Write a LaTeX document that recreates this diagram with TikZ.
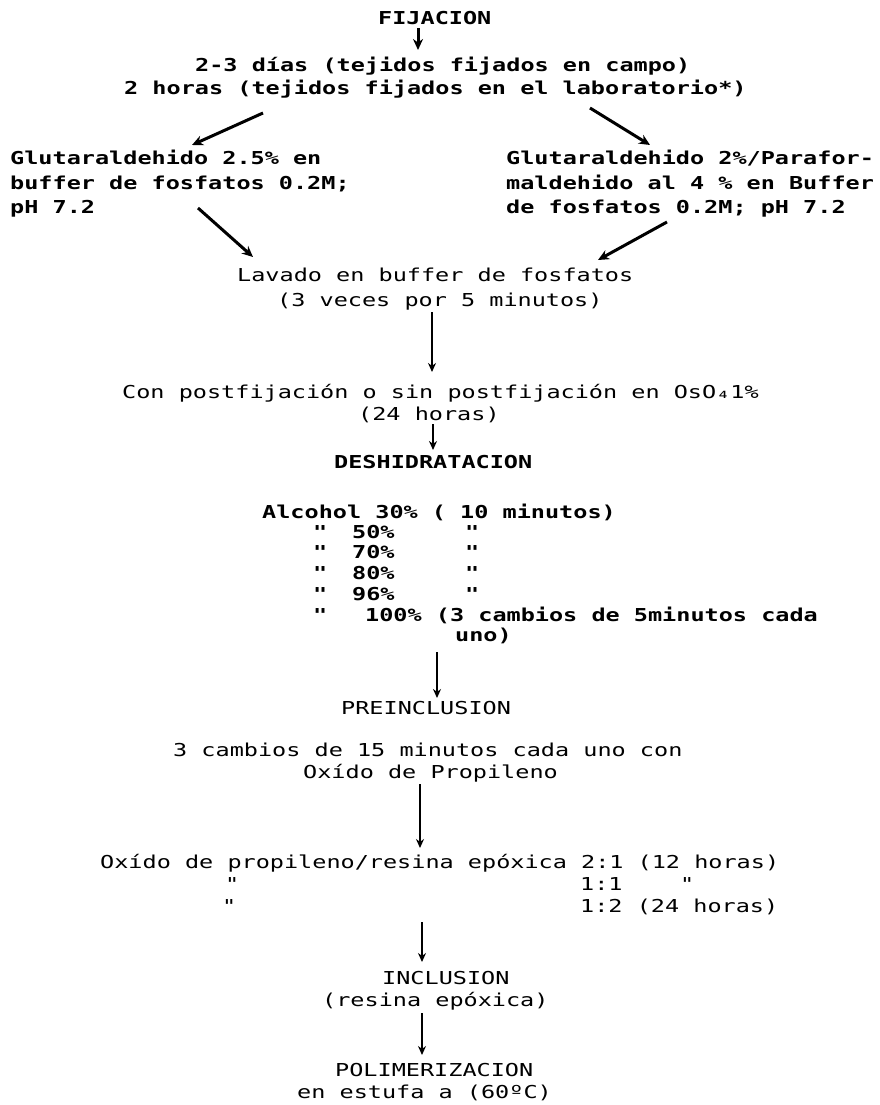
\documentclass[tikz,border=0pt]{standalone}
\usepackage{fontspec}
\usetikzlibrary{arrows.meta}
\newfontfamily\tw[FakeStretch=1.32]{DejaVu Sans Mono}
\begin{document}
\begin{tikzpicture}[x=1pt,y=-1pt,
  t/.style={anchor=west,inner sep=0pt,text height=13pt,text depth=0pt,font=\tw\fontsize{17.8}{20}\selectfont\bfseries},
  tl/.style={t,font=\tw\fontsize{17.8}{20}\selectfont},
  arr/.style={-{Stealth[length=9pt,width=8pt]},line width=2pt},
  darr/.style={-{Stealth[length=11pt,width=10pt]},line width=3pt}]
\useasboundingbox[fill=white] (0,0) rectangle (880,1105);
% top
\node[t] (fij) at (378,18) {FIJACION};
\node[t] (l1) at (195,65) {2-3 días (tejidos fijados en campo)};
\node[t] (l2) at (124,88) {2 horas (tejidos fijados en el laboratorio*)};
\node[t] (gl1) at (10,158) {Glutaraldehido 2.5\% en};
\node[t] (gl2) at (10,183) {buffer de fosfatos 0.2M;};
\node[t] (gl3) at (10,207) {pH 7.2};
\node[t] (gr1) at (506,158) {Glutaraldehido 2\%/Parafor-};
\node[t] (gr2) at (506,183) {maldehido al 4 \% en Buffer};
\node[t] (gr3) at (506,207) {de fosfatos 0.2M; pH 7.2};
\node[tl] (lav1) at (237,275) {Lavado en buffer de fosfatos};
\node[tl] (lav2) at (277,300) {(3 veces por 5 minutos)};
\node[tl] (con1) at (122,392) {Con postfijación o sin postfijación en OsO₄1\%};
\node[tl] (con2) at (358,414) {(24 horas)};
\node[t] (desh) at (334,462) {DESHIDRATACION};
% alcohol table
\node[t] (al1) at (262,512) {Alcohol 30\% ( 10 minutos)};
\node[t] (q2a) at (313,532) {"};
\node[t] (p2) at (352,532) {50\%};
\node[t] (q2b) at (465,532) {"};
\node[t] (q3a) at (313,552) {"};
\node[t] (p3) at (352,552) {70\%};
\node[t] (q3b) at (465,552) {"};
\node[t] (q4a) at (313,573) {"};
\node[t] (p4) at (352,573) {80\%};
\node[t] (q4b) at (465,573) {"};
\node[t] (q5a) at (313,594) {"};
\node[t] (p5) at (352,594) {96\%};
\node[t] (q5b) at (465,594) {"};
\node[t] (q6a) at (313,615) {"};
\node[t] (p6) at (365,615) {100\% (3 cambios de 5minutos cada};
\node[t] (p7) at (455,635) {uno)};
\node[tl] (pre) at (341,708) {PREINCLUSION};
\node[tl] (c1) at (173,750) {3 cambios de 15 minutos cada uno con};
\node[tl] (c2) at (303,772) {Oxído de Propileno};
\node[tl] (ox1) at (100,862) {Oxído de propileno/resina epóxica 2:1 (12 horas)};
\node[tl] (ox2a) at (225,884) {"};
\node[tl] (ox2b) at (580,884) {1:1};
\node[tl] (ox2c) at (680,884) {"};
\node[tl] (ox3a) at (222,906) {"};
\node[tl] (ox3b) at (580,906) {1:2 (24 horas)};
\node[tl] (inc1) at (382,978) {INCLUSION};
\node[tl] (inc2) at (322,1000) {(resina epóxica)};
\node[tl] (pol1) at (335,1070) {POLIMERIZACION};
\node[tl] (pol2) at (297,1092) {en estufa a (60ºC)};
% arrow end points
\coordinate (a1s) at (418,28); \coordinate (a1e) at (418,50);
\coordinate (d1s) at (263,113); \coordinate (d1e) at (192,145);
\coordinate (d2s) at (590,108); \coordinate (d2e) at (650,145);
\coordinate (d3s) at (198,208); \coordinate (d3e) at (253,257);
\coordinate (d4s) at (667,222); \coordinate (d4e) at (598,260);
\coordinate (v2s) at (432,312); \coordinate (v2e) at (432,372);
\coordinate (v3s) at (433,424); \coordinate (v3e) at (433,450);
\coordinate (v4s) at (437,652); \coordinate (v4e) at (437,698);
\coordinate (v5s) at (420,784); \coordinate (v5e) at (420,848);
\coordinate (v6s) at (422,922); \coordinate (v6e) at (422,962);
\coordinate (v7s) at (422,1013); \coordinate (v7e) at (422,1055);
\draw[darr] (a1s) -- (a1e);
\draw[darr] (d1s) -- (d1e);
\draw[darr] (d2s) -- (d2e);
\draw[darr] (d3s) -- (d3e);
\draw[darr] (d4s) -- (d4e);
\draw[arr] (v2s) -- (v2e);
\draw[arr] (v3s) -- (v3e);
\draw[arr] (v4s) -- (v4e);
\draw[arr] (v5s) -- (v5e);
\draw[arr] (v6s) -- (v6e);
\draw[arr] (v7s) -- (v7e);
\end{tikzpicture}
\end{document}
